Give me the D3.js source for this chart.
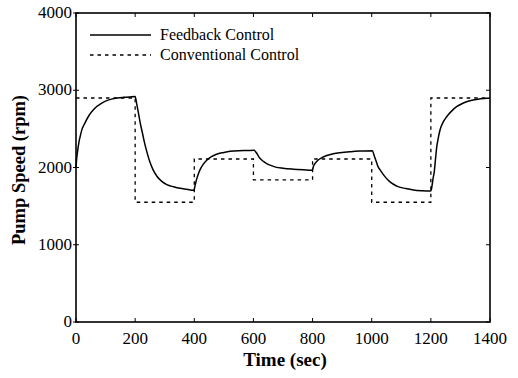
<!DOCTYPE html>
<html><head><meta charset="utf-8">
<script src="https://cdn.jsdelivr.net/npm/d3@7"></script>
<style>body{margin:0;background:#fff}svg{display:block}</style>
</head><body>
<svg id="c" width="518" height="378"></svg>
<script>
// Data
const xTicks = [0,200,400,600,800,1000,1200,1400];
const yTicks = [0,1000,2000,3000,4000];
const convTimes = [0,200,400,600,800,1000,1200,1400];
const convLevels = [2900,1550,2110,1840,2110,1550,2900,2900];
const fbTime = [0,2,5,10,14,20,30,45,60,70,80,100,120,140,160,180,200,
  205,210,216,225,233,242,250,260,273,290,307,330,352,375,398,
  400,404,408,414,420,430,442,458,475,500,521,550,580,602,
  610,622,635,645,656,675,700,735,770,798,
  800,803,810,819,833,848,870,893,930,960,1002,
  1008,1015,1021,1030,1044,1060,1075,1089,1115,1141,1170,1199,
  1202,1205,1208,1211,1215,1220,1225,1231,1242,1254,1270,1287,1310,1332,1360,1389,1400];
const fbSpeed = [2000,2100,2200,2330,2400,2490,2575,2680,2750,2790,2815,2860,2885,2900,2908,2913,2920,
  2830,2730,2600,2440,2300,2170,2070,1975,1890,1820,1778,1750,1730,1718,1705,
  1720,1790,1850,1920,1975,2040,2095,2140,2172,2195,2210,2218,2220,2222,
  2190,2120,2075,2050,2030,2005,1990,1978,1970,1965,
  1975,2015,2060,2097,2130,2155,2178,2192,2205,2212,2218,
  2160,2080,2015,1960,1885,1820,1780,1752,1728,1710,1700,1695,
  1720,1790,1870,1930,2080,2270,2380,2485,2590,2660,2730,2787,2835,2865,2885,2896,2900];
const legendLabels = ["Feedback Control","Conventional Control"];

const svg = d3.select("#c");
const L=76,R=490,T=13,B=322;
const x = d3.scaleLinear().domain([0,1400]).range([L,R]);
const y = d3.scaleLinear().domain([0,4000]).range([B,T]);
const font = "'Liberation Serif','Times New Roman',serif";

// ticks
const tk = 3;
const g = svg.append("g").attr("stroke","#000").attr("stroke-width",1);
xTicks.forEach(t=>{
  g.append("line").attr("x1",x(t)).attr("x2",x(t)).attr("y1",B).attr("y2",B-tk-1);
  g.append("line").attr("x1",x(t)).attr("x2",x(t)).attr("y1",T).attr("y2",T+tk+1);
});
yTicks.forEach(v=>{
  g.append("line").attr("x1",L-tk).attr("x2",L+tk).attr("y1",y(v)).attr("y2",y(v));
  g.append("line").attr("x1",R).attr("x2",R-tk-1).attr("y1",y(v)).attr("y2",y(v));
});
// frame
svg.append("rect").attr("x",L).attr("y",T).attr("width",R-L).attr("height",B-T)
  .attr("fill","none").attr("stroke","#000").attr("stroke-width",1.6);

// tick labels
svg.append("g").selectAll("text").data(xTicks).join("text")
  .attr("x",d=>x(d)).attr("y",344).attr("text-anchor","middle")
  .attr("font-family",font).attr("font-size",17).text(d=>d);
svg.append("g").selectAll("text").data(yTicks).join("text")
  .attr("x",72).attr("y",d=>y(d)+5).attr("text-anchor","end")
  .attr("font-family",font).attr("font-size",17).text(d=>d);

// titles
svg.append("text").attr("x",285).attr("y",366).attr("text-anchor","middle")
  .attr("font-family",font).attr("font-size",19).attr("font-weight","bold").text("Time (sec)");
svg.append("text").attr("transform","translate(25,170) rotate(-90)").attr("text-anchor","middle")
  .attr("font-family",font).attr("font-size",18.5).attr("font-weight","bold").text("Pump Speed (rpm)");

// lines
const conv = convTimes.map((t,i)=>[t,convLevels[i]]);
svg.append("path").datum(conv)
  .attr("d",d3.line().x(d=>x(d[0])).y(d=>y(d[1])).curve(d3.curveStepAfter))
  .attr("fill","none").attr("stroke","#000").attr("stroke-width",1.3).attr("stroke-dasharray","3.5,4");
const fb = fbTime.map((t,i)=>[t,fbSpeed[i]]);
svg.append("path").datum(fb)
  .attr("d",d3.line().x(d=>x(d[0])).y(d=>y(d[1])).curve(d3.curveMonotoneX))
  .attr("fill","none").attr("stroke","#000").attr("stroke-width",1.5);

// legend
const lg = svg.append("g");
[0,1].forEach(i=>{
  const yy = 35 + i*20;
  lg.append("line").attr("x1",90).attr("x2",151).attr("y1",yy).attr("y2",yy)
    .attr("stroke","#000").attr("stroke-width",i?1.3:1.5)
    .attr("stroke-dasharray",i?"3.5,4":null);
  lg.append("text").attr("x",160).attr("y",yy+5).attr("font-family",font)
    .attr("font-size",16).text(legendLabels[i]);
});
</script>
</body></html>
